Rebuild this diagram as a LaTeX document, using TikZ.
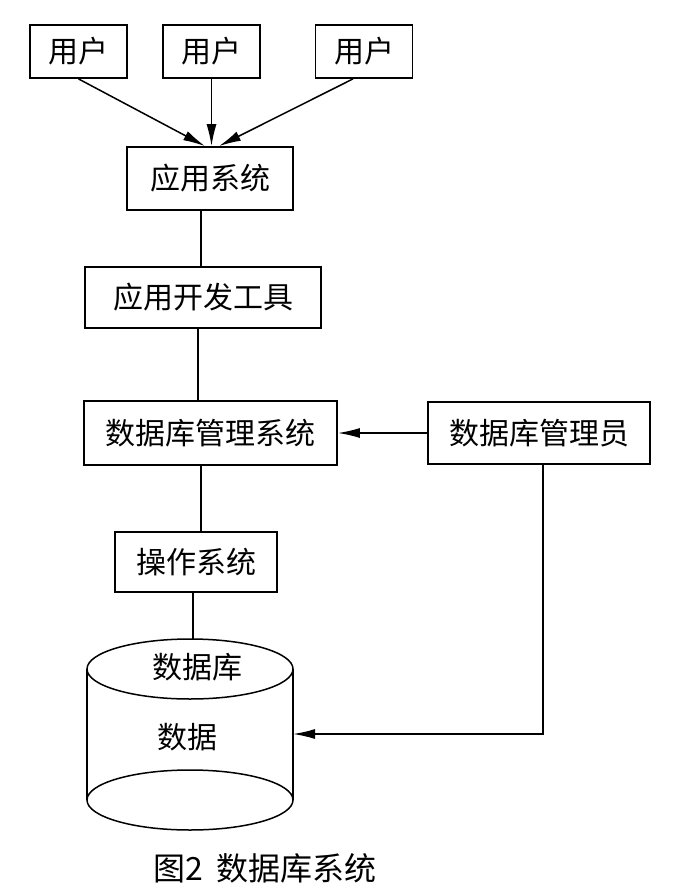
\documentclass[tikz,border=0pt]{standalone}
\usepackage{fontspec}
\setmainfont{Noto Sans CJK SC}
\usetikzlibrary{arrows.meta}

\begin{document}
\begin{tikzpicture}[x=1pt,y=-1pt,>={Latex[length=22pt,width=10pt]},
	caja/.style={draw, line width=1.8pt, inner sep=0pt, minimum height=62pt, font=\fontsize{30pt}{36pt}\selectfont},
	linea/.style={line width=1.5pt}]
	\fill [white] (0,0) rectangle (684,888);
% USUARIOS
	\node [caja, minimum width=97pt, minimum height=53pt] (u1) at (78.5,51.5) {用户};
	\node [caja, minimum width=97pt, minimum height=53pt] (u2) at (211.5,51.5) {用户};
	\node [caja, minimum width=97pt, minimum height=53pt] (u3) at (364,51.5) {用户};
% CAPAS
	\node [caja, minimum width=166pt, minimum height=63pt] (app) at (210,178.5) {应用系统};
	\node [caja, minimum width=236pt, minimum height=61pt] (dev) at (203,297.5) {应用开发工具};
	\node [caja, minimum width=253pt, minimum height=64pt] (dbms) at (210.5,433) {数据库管理系统};
	\node [caja, minimum width=222pt] (dba) at (539,433) {数据库管理员};
	\node [caja, minimum width=162pt, minimum height=60pt] (os) at (196,562) {操作系统};
	\draw [linea,->] (u1.south) -- ([xshift=-5pt]app.north);
	\draw [linea,->] (u2.south) -- (u2.south |- app.north);
	\draw [linea,->] ([xshift=-11pt]u3.south) -- ([xshift=9pt]app.north);
	\draw [linea] ([xshift=-2pt]dev.north) -- ([xshift=-2pt]dev.north |- app.south);
	\draw [linea] ([xshift=-5pt]dev.south) -- ([xshift=-5pt]dev.south |- dbms.north);
	\draw [linea] ([xshift=5pt]os.north) -- ([xshift=5pt]os.north |- dbms.south);
	\draw [linea,->] (dba.west) -- (dbms.east);
% BASE DE DATOS
	\coordinate (cyltop) at (190,669);
	\coordinate (cylbot) at (190,800);
	\coordinate (cylin) at (293,734);
	\draw [linea] (cyltop) ellipse (103pt and 30pt);
	\draw [linea] (cylbot) ellipse (103pt and 30pt);
	\draw [linea] (87,669) -- (87,800);
	\draw [linea] (293,669) -- (293,800);
	\node [font=\fontsize{30pt}{36pt}\selectfont] (dbcap) at (197,667) {数据库};
	\node [font=\fontsize{30pt}{36pt}\selectfont] (dbdata) at (187,737) {数据};
	\draw [linea] ([xshift=-3pt]os.south) -- ([xshift=-3pt]os.south |- 0,639);
	\draw [linea,->] ([xshift=4pt]dba.south) |- (cylin);
	\node [font=\fontsize{32pt}{38pt}\selectfont] (cap) at (265,868) {图2\, 数据库系统};
\end{tikzpicture}
\end{document}
